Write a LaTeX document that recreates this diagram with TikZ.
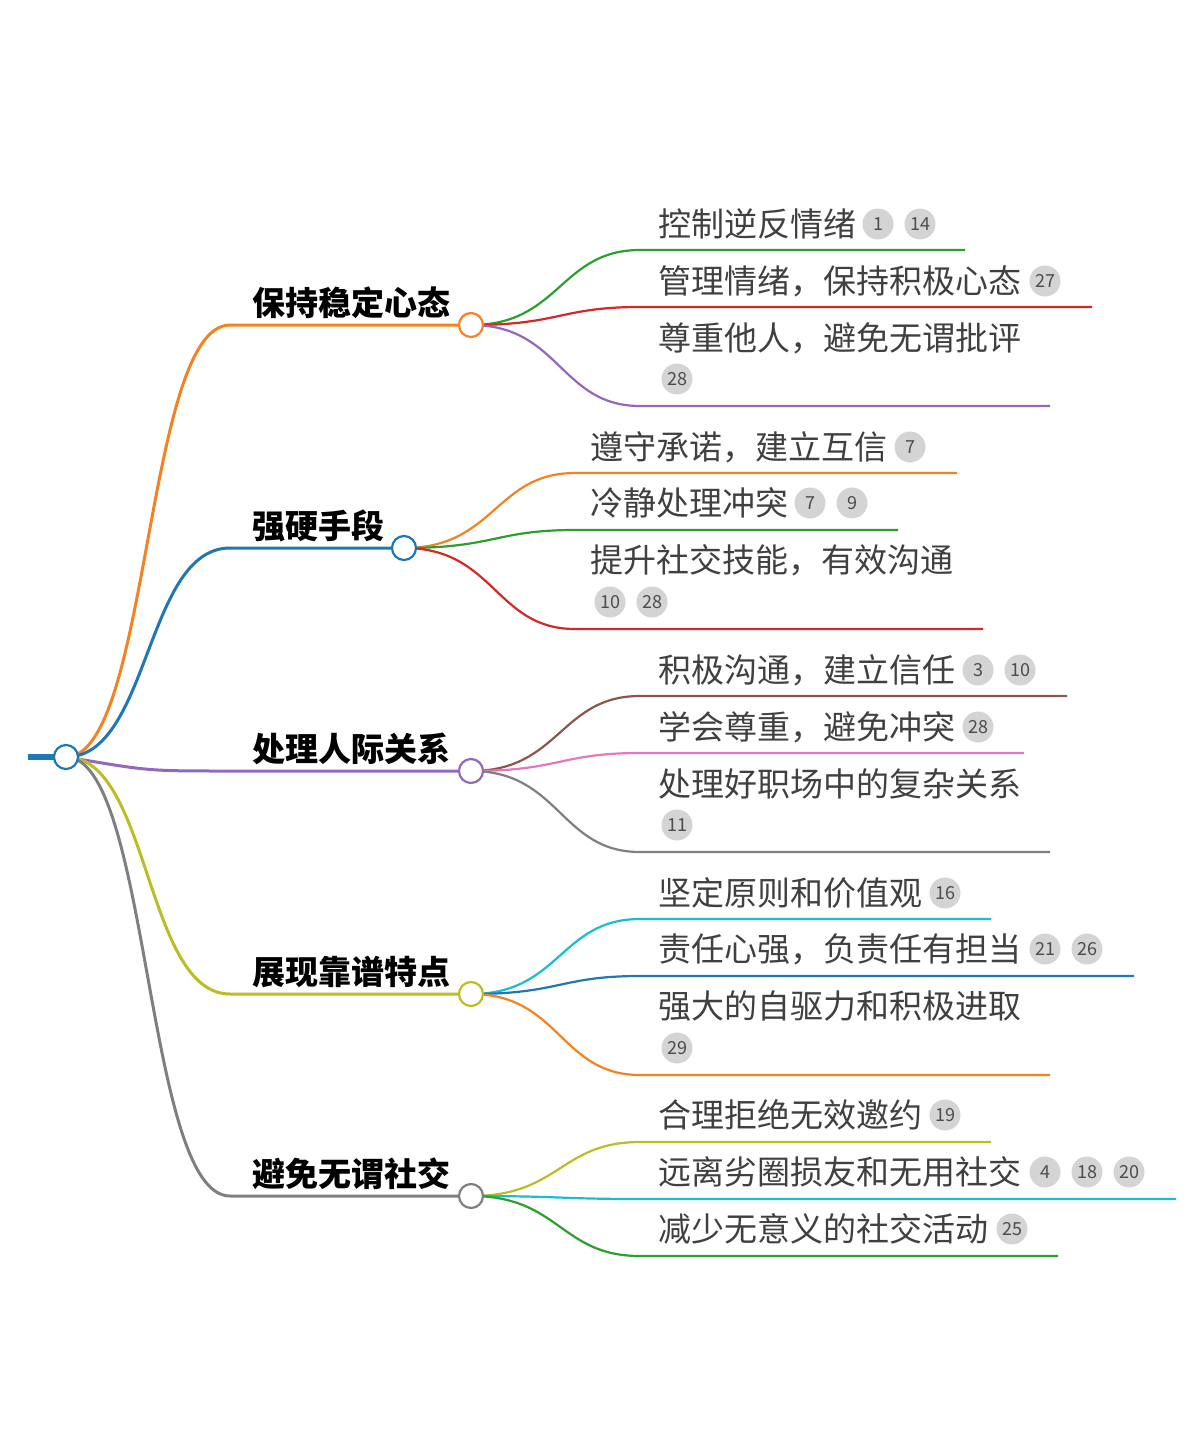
\documentclass[tikz,border=0pt]{standalone}
\usepackage{fontspec}
\newfontfamily\cjk{Noto Sans CJK SC}
\definecolor{cOr}{HTML}{F58220}
\definecolor{cBl}{HTML}{1F77B4}
\definecolor{cPu}{HTML}{9467BD}
\definecolor{cOl}{HTML}{BCBD22}
\definecolor{cGy}{HTML}{7F7F7F}
\definecolor{cGr}{HTML}{2CA02C}
\definecolor{cRd}{HTML}{D62728}
\definecolor{cBr}{HTML}{8C564B}
\definecolor{cPk}{HTML}{E377C2}
\definecolor{cCy}{HTML}{17BECF}
\tikzset{
  branch/.style = {line width=3pt},% root to topic
  twig/.style = {line width=2.2pt},% topic to leaf
  knot/.style = {circle, draw, fill=white, line width=2.2pt, minimum size=24pt, inner sep=0pt},
  topic/.style = {anchor=west, font=\cjk\bfseries\fontsize{33}{33}\selectfont, inner sep=0pt},
  leaf/.style = {anchor=west, font=\cjk\fontsize{33}{33}\selectfont, text=black!75, inner sep=0pt},
  badge/.style = {circle, fill=black!17, minimum size=31pt, inner sep=0pt,
    font=\cjk\fontsize{18}{18}\selectfont, text=black!70}
}
\begin{document}
\begin{tikzpicture}[x=1pt,y=-1pt]
\useasboundingbox (0,0) rectangle (1202,1430);
% centres
\coordinate (root) at (66,757);
\coordinate (b1) at (471,325);
\coordinate (b2) at (404,548);
\coordinate (b3) at (471,771);
\coordinate (b4) at (471,994);
\coordinate (b5) at (471,1196);
% root to topics
\draw[cBl, line width=6pt] (28,757) coordinate (stub) -- (root);
\draw[branch, cOr] (root) .. controls (150,757) and (145,325) .. (230,325) -- (b1);
\draw[branch, cBl] (root) .. controls (150,757) and (145,548) .. (230,548) -- (b2);
\draw[branch, cPu] (root) .. controls (150,771) and (145,771) .. (230,771) -- (b3);
\draw[branch, cOl] (root) .. controls (150,757) and (145,994) .. (230,994) -- (b4);
\draw[branch, cGy] (root) .. controls (150,757) and (145,1196) .. (230,1196) -- (b5);
\node[topic] (t1) at (252,303) {保持稳定心态};
\node[topic] (t2) at (252,526) {强硬手段};
\node[topic] (t3) at (252,749) {处理人际关系};
\node[topic] (t4) at (252,972) {展现靠谱特点};
\node[topic] (t5) at (252,1174) {避免无谓社交};
% group 1
\draw[twig, cGr] (b1) .. controls (560,325) and (560,250) .. (640,250) -- (965,250);
\draw[twig, cRd] (b1) .. controls (560,325) and (560,307) .. (640,307) -- (1092,307);
\draw[twig, cPu] (b1) .. controls (560,325) and (560,406) .. (640,406) -- (1050,406);
\node[leaf] (l11) at (658,224) {控制逆反情绪};
\node[badge] at (878,224) {1};
\node[badge] at (920,224) {14};
\node[leaf] (l12) at (658,281) {管理情绪，保持积极心态};
\node[badge] at (1045,281) {27};
\node[leaf] (l13) at (658,338) {尊重他人，避免无谓批评};
\node[badge] at (677,379) {28};
% group 2
\draw[twig, cOr] (b2) .. controls (495,548) and (495,473) .. (575,473) -- (957,473);
\draw[twig, cGr] (b2) .. controls (495,548) and (495,530) .. (575,530) -- (898,530);
\draw[twig, cRd] (b2) .. controls (495,548) and (495,629) .. (575,629) -- (983,629);
\node[leaf] (l21) at (590,447) {遵守承诺，建立互信};
\node[badge] at (910,447) {7};
\node[leaf] (l22) at (590,503) {冷静处理冲突};
\node[badge] at (810,503) {7};
\node[badge] at (852,503) {9};
\node[leaf] (l23) at (590,560) {提升社交技能，有效沟通};
\node[badge] at (610,602) {10};
\node[badge] at (652,602) {28};
% group 3
\draw[twig, cBr] (b3) .. controls (560,771) and (560,696) .. (640,696) -- (1067,696);
\draw[twig, cPk] (b3) .. controls (560,771) and (560,753) .. (640,753) -- (1024,753);
\draw[twig, cGy] (b3) .. controls (560,771) and (560,852) .. (640,852) -- (1050,852);
\node[leaf] (l31) at (658,670) {积极沟通，建立信任};
\node[badge] at (978,670) {3};
\node[badge] at (1020,670) {10};
\node[leaf] (l32) at (658,727) {学会尊重，避免冲突};
\node[badge] at (978,727) {28};
\node[leaf] (l33) at (658,784) {处理好职场中的复杂关系};
\node[badge] at (677,825) {11};
% group 4
\draw[twig, cCy] (b4) .. controls (560,994) and (560,919) .. (640,919) -- (991,919);
\draw[twig, cBl] (b4) .. controls (560,994) and (560,976) .. (640,976) -- (1134,976);
\draw[twig, cOr] (b4) .. controls (560,994) and (560,1075) .. (640,1075) -- (1050,1075);
\node[leaf] (l41) at (658,893) {坚定原则和价值观};
\node[badge] at (945,893) {16};
\node[leaf] (l42) at (658,949) {责任心强，负责任有担当};
\node[badge] at (1045,949) {21};
\node[badge] at (1087,949) {26};
\node[leaf] (l43) at (658,1006) {强大的自驱力和积极进取};
\node[badge] at (677,1048) {29};
% group 5
\draw[twig, cOl] (b5) .. controls (560,1196) and (560,1142) .. (640,1142) -- (991,1142);
\draw[twig, cCy] (b5) .. controls (560,1196) and (560,1199) .. (640,1199) -- (1176,1199);
\draw[twig, cGr] (b5) .. controls (560,1196) and (560,1256) .. (640,1256) -- (1058,1256);
\node[leaf] (l51) at (658,1115) {合理拒绝无效邀约};
\node[badge] at (945,1115) {19};
\node[leaf] (l52) at (658,1172) {远离劣圈损友和无用社交};
\node[badge] at (1045,1172) {4};
\node[badge] at (1087,1172) {18};
\node[badge] at (1129,1172) {20};
\node[leaf] (l53) at (658,1229) {减少无意义的社交活动};
\node[badge] at (1012,1229) {25};
% knots on top
\node[knot, draw=cBl] (rootk) at (root) {};
\node[knot, draw=cOr] (k1) at (b1) {};
\node[knot, draw=cBl] (k2) at (b2) {};
\node[knot, draw=cPu] (k3) at (b3) {};
\node[knot, draw=cOl] (k4) at (b4) {};
\node[knot, draw=cGy] (k5) at (b5) {};
\end{tikzpicture}
\end{document}
